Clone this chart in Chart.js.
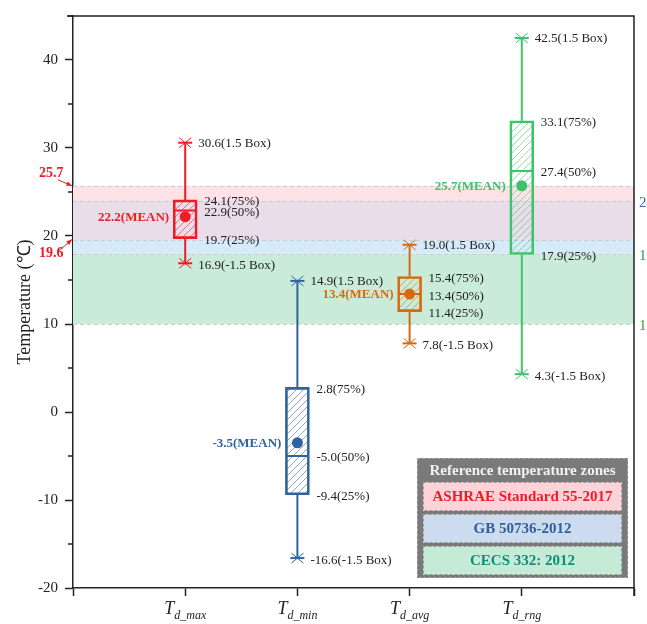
<!DOCTYPE html>
<html>
<head>
<meta charset="utf-8">
<script src="https://cdn.jsdelivr.net/npm/chart.js@4.4.0/dist/chart.umd.min.js"></script>
<style>
html, body { margin: 0; padding: 0; background: #fff; }
#wrap { width: 647px; height: 624px; }
</style>
</head>
<body>
<div id="wrap"><canvas id="chart" width="647" height="624"></canvas></div>
<script>
// box plot values
var cats = ['d_max', 'd_min', 'd_avg', 'd_rng'];
var whiskerHigh = [30.6, 14.9, 19.0, 42.5];
var q3 = [24.1, 2.8, 15.4, 33.1];
var median = [22.9, -5.0, 13.4, 27.4];
var q1 = [19.7, -9.4, 11.4, 17.9];
var whiskerLow = [16.9, -16.6, 7.8, 4.3];
var mean = [22.2, -3.5, 13.4, 25.7];
var colors = ['#ee1c25', '#2e63a0', '#d9690f', '#3cc46a'];

// reference temperature zones
var zoneNames = ['ASHRAE Standard 55-2017', 'GB 50736-2012', 'CECS 332: 2012'];
var zoneLow = [19.6, 18, 10];
var zoneHigh = [25.7, 24, 18];
var zoneFill = ['#fde3e7', '#d5ebf9', '#c9ebd7'];
var overlapFill = '#e9dde9';
var legendFill = ['#fdd3d9', '#ccdcee', '#c5ebd6'];
var legendText = ['#ee1c25', '#2f5f9c', '#148a7b'];
var rightMarks = [24, 18, 10];
var rightColors = ['#2f6cb0', '#1a9a8a', '#3a9a3a'];

var serif = "'Liberation Serif', serif";
Chart.defaults.font.family = serif;

var mainCtx = document.getElementById('chart').getContext('2d');

// diagonal hatch for the boxes
function hatch(color) {
    var c = document.createElement('canvas');
    c.width = 7; c.height = 7;
    var g = c.getContext('2d');
    g.strokeStyle = color;
    g.globalAlpha = 0.55;
    g.lineWidth = 1;
    g.beginPath();
    g.moveTo(0, 7); g.lineTo(7, 0);
    g.moveTo(-1, 1); g.lineTo(1, -1);
    g.moveTo(6, 8); g.lineTo(8, 6);
    g.stroke();
    return mainCtx.createPattern(c, 'repeat');
}

const boxData = cats.map((c, i) => ({ x: i + 1, y: [q1[i], q3[i]] }))
const meanData = cats.map((c, i) => ({ x: i + 1, y: mean[i] }))

function cap(ctx, cx, py, color) {
    ctx.strokeStyle = color;
    ctx.lineWidth = 2;
    ctx.beginPath();
    ctx.moveTo(cx - 7, py); ctx.lineTo(cx + 7, py);
    ctx.stroke();
    ctx.lineWidth = 1;
    ctx.beginPath();
    ctx.moveTo(cx - 6, py - 5); ctx.lineTo(cx + 6, py + 5);
    ctx.moveTo(cx - 6, py + 5); ctx.lineTo(cx + 6, py - 5);
    ctx.stroke();
}

const boxPlugin = {
    id: 'boxes',
    beforeDatasetsDraw(chart) {
        var ctx = chart.ctx, a = chart.chartArea, y = chart.scales.y;
        ctx.save();
        for (var i = 0; i < zoneLow.length; i++) {
            var top = y.getPixelForValue(zoneHigh[i]), bot = y.getPixelForValue(zoneLow[i]);
            ctx.fillStyle = zoneFill[i];
            ctx.fillRect(a.left, top, a.right - a.left, bot - top);
        }
        // ASHRAE and GB overlap
        var lo = Math.max(zoneLow[0], zoneLow[1]), hi = Math.min(zoneHigh[0], zoneHigh[1]);
        ctx.fillStyle = overlapFill;
        ctx.fillRect(a.left, y.getPixelForValue(hi), a.right - a.left, y.getPixelForValue(lo) - y.getPixelForValue(hi));
        ctx.strokeStyle = '#cccccc';
        ctx.lineWidth = 1;
        ctx.setLineDash([4, 3]);
        zoneLow.concat(zoneHigh).forEach(v => {
            var p = Math.round(y.getPixelForValue(v)) + 0.5;
            ctx.beginPath();
            ctx.moveTo(a.left, p); ctx.lineTo(a.right, p);
            ctx.stroke();
        });
        ctx.restore();
    },
    afterDatasetDraw(chart, args) {
        if (args.index !== 0) return;
        var ctx = chart.ctx, x = chart.scales.x, y = chart.scales.y;
        ctx.save();
        cats.forEach((c, i) => {
            var cx = x.getPixelForValue(i + 1);
            ctx.strokeStyle = colors[i];
            ctx.lineWidth = 2;
            ctx.beginPath();
            ctx.moveTo(cx, y.getPixelForValue(q3[i])); ctx.lineTo(cx, y.getPixelForValue(whiskerHigh[i]));
            ctx.moveTo(cx, y.getPixelForValue(q1[i])); ctx.lineTo(cx, y.getPixelForValue(whiskerLow[i]));
            ctx.moveTo(cx - 11, y.getPixelForValue(median[i])); ctx.lineTo(cx + 11, y.getPixelForValue(median[i]));
            ctx.stroke();
            cap(ctx, cx, y.getPixelForValue(whiskerHigh[i]), colors[i]);
            cap(ctx, cx, y.getPixelForValue(whiskerLow[i]), colors[i]);
        });
        ctx.restore();
    },
    afterDraw(chart) {
        var ctx = chart.ctx, a = chart.chartArea, x = chart.scales.x, y = chart.scales.y;
        ctx.save();
        // frame top + right
        ctx.strokeStyle = '#222';
        ctx.lineWidth = 1.5;
        ctx.beginPath();
        ctx.moveTo(a.left - 6, a.top); ctx.lineTo(a.right, a.top); ctx.lineTo(a.right, a.bottom + 8);
        ctx.stroke();
        // minor y ticks
        ctx.beginPath();
        for (var v = -15; v <= 45; v += 10) {
            var p = y.getPixelForValue(v);
            ctx.moveTo(a.left - 5, p); ctx.lineTo(a.left, p);
        }
        ctx.stroke();

        // box labels
        ctx.textBaseline = 'middle';
        cats.forEach((c, i) => {
            var cx = x.getPixelForValue(i + 1);
            ctx.fillStyle = '#222';
            ctx.font = '13px ' + serif;
            ctx.textAlign = 'left';
            ctx.fillText(whiskerHigh[i].toFixed(1) + '(1.5 Box)', cx + 13, y.getPixelForValue(whiskerHigh[i]) + 1);
            ctx.fillText(q3[i].toFixed(1) + '(75%)', cx + 19, y.getPixelForValue(q3[i]) + 2);
            ctx.fillText(median[i].toFixed(1) + '(50%)', cx + 19, y.getPixelForValue(median[i]) + 2);
            ctx.fillText(q1[i].toFixed(1) + '(25%)', cx + 19, y.getPixelForValue(q1[i]) + 2);
            ctx.fillText(whiskerLow[i].toFixed(1) + '(-1.5 Box)', cx + 13, y.getPixelForValue(whiskerLow[i]) + 2);
            ctx.fillStyle = colors[i];
            ctx.font = 'bold 13px ' + serif;
            ctx.textAlign = 'right';
            ctx.fillText(mean[i].toFixed(1) + '(MEAN)', cx - 16, y.getPixelForValue(mean[i]) + 1);

            // x label T with subscript
            ctx.fillStyle = '#222';
            ctx.textBaseline = 'alphabetic';
            ctx.font = 'italic 18px ' + serif;
            var wT = ctx.measureText('T').width;
            ctx.font = 'italic 12px ' + serif;
            var wS = ctx.measureText(c).width;
            var x0 = cx - (wT + wS) / 2;
            ctx.textAlign = 'left';
            ctx.font = 'italic 18px ' + serif;
            ctx.fillText('T', x0, 614);
            ctx.font = 'italic 12px ' + serif;
            ctx.fillText(c, x0 + wT, 619);
            ctx.textBaseline = 'middle';
        });

        // arrows for the ASHRAE limits
        ctx.fillStyle = colors[0];
        ctx.strokeStyle = colors[0];
        ctx.font = 'bold 14px ' + serif;
        ctx.textAlign = 'left';
        [[zoneHigh[0], -13, -6], [zoneLow[0], 13, 12]].forEach(d => {
            var py = y.getPixelForValue(d[0]);
            ctx.fillText(d[0].toFixed(1), 39, py + d[1] + 0.5);
            var sx = a.left - 15, sy = py + (d[2] < 0 ? -6 : 12);
            ctx.lineWidth = 1;
            ctx.beginPath();
            ctx.moveTo(sx, sy); ctx.lineTo(a.left - 1, py);
            ctx.stroke();
            var ang = Math.atan2(py - sy, a.left - 1 - sx);
            ctx.beginPath();
            ctx.moveTo(a.left - 1, py);
            ctx.lineTo(a.left - 1 - 6 * Math.cos(ang - 0.4), py - 6 * Math.sin(ang - 0.4));
            ctx.lineTo(a.left - 1 - 6 * Math.cos(ang + 0.4), py - 6 * Math.sin(ang + 0.4));
            ctx.closePath();
            ctx.fill();
        });

        // right side zone values (cut by the edge)
        ctx.font = '15px ' + serif;
        rightMarks.forEach((v, i) => {
            ctx.fillStyle = rightColors[i];
            ctx.fillText(String(v), a.right + 5, y.getPixelForValue(v) + 2);
        });

        // zone legend
        var lx = 417, ly = 458, lw = 211, lh = 120;
        ctx.fillStyle = '#7a7a7a';
        ctx.fillRect(lx, ly, lw, lh);
        ctx.setLineDash([3, 2]);
        ctx.strokeStyle = '#a8a8a8';
        ctx.lineWidth = 1;
        ctx.strokeRect(lx + 0.5, ly + 0.5, lw - 1, lh - 1);
        ctx.textAlign = 'center';
        ctx.fillStyle = '#f2f2f2';
        ctx.font = 'bold 15px ' + serif;
        ctx.fillText('Reference temperature zones', lx + lw / 2, ly + 13);
        zoneNames.forEach((n, i) => {
            var ry = ly + 24 + i * 32;
            ctx.fillStyle = legendFill[i];
            ctx.fillRect(lx + 6, ry, lw - 12, 29);
            ctx.strokeStyle = '#999';
            ctx.strokeRect(lx + 6.5, ry + 0.5, lw - 13, 28);
            ctx.fillStyle = legendText[i];
            ctx.fillText(n, lx + lw / 2, ry + 15);
        });
        ctx.restore();
    }
};

new Chart('chart', {
    type: 'bar',
    data: {
        datasets: [{
            type: 'bar',
            data: boxData,
            backgroundColor: colors.map(hatch),
            borderColor: colors,
            borderWidth: 2,
            borderSkipped: false,
            barThickness: 24,
            order: 2
        }, {
            type: 'scatter',
            data: meanData,
            backgroundColor: colors,
            borderWidth: 0,
            pointRadius: 5.5,
            order: 1
        }]
    },
    options: {
        responsive: false,
        animation: false,
        layout: { padding: { top: 15, right: 13, left: 0, bottom: 0 } },
        plugins: { legend: { display: false }, tooltip: { enabled: false } },
        scales: {
            x: {
                type: 'linear',
                min: 0, max: 5,
                offset: false,
                ticks: { stepSize: 1, callback: () => '' },
                grid: { offset: false, drawOnChartArea: false, tickLength: 8, tickColor: '#222', tickWidth: 1.5 },
                border: { color: '#222', width: 1.5 },
                afterFit: s => { s.height = 36 }
            },
            y: {
                min: -20, max: 45,
                ticks: {
                    stepSize: 5,
                    padding: 7,
                    color: '#222',
                    font: { size: 15 },
                    callback: v => v % 10 === 0 ? v : ''
                },
                grid: {
                    drawOnChartArea: false, tickLength: 8, tickWidth: 1.5,
                    tickColor: c => c.tick && c.tick.value % 10 === 0 ? '#222' : 'rgba(0,0,0,0)'
                },
                border: { color: '#222', width: 1.5 },
                title: { display: true, text: 'Temperature (℃)', color: '#222', font: { size: 18 }, padding: { top: 14, bottom: 0 } },
                afterFit: s => { s.width = 73 }
            }
        }
    },
    plugins: [boxPlugin]
});
</script>
</body>
</html>
